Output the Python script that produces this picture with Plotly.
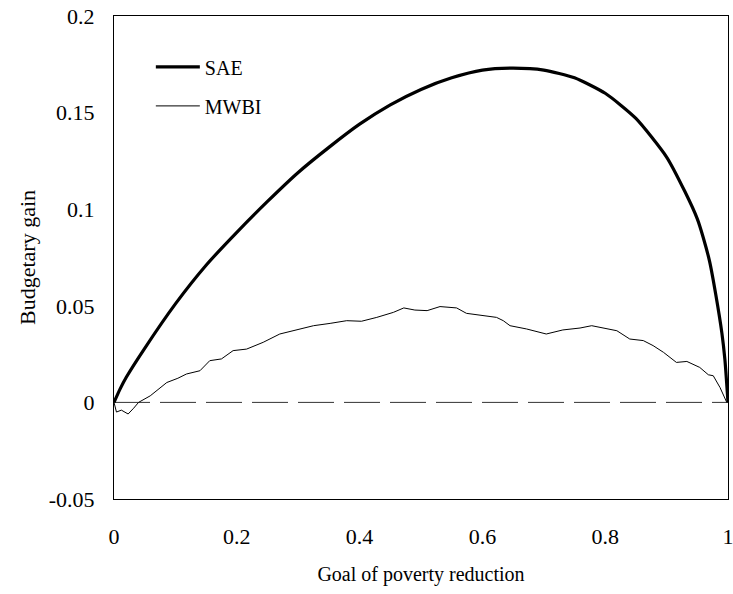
import plotly.graph_objects as go

# SAE curve
sae_x = [0, 0.01, 0.02, 0.05, 0.1, 0.15, 0.2, 0.25, 0.3, 0.35, 0.4, 0.45, 0.5, 0.55, 0.6,
         0.65, 0.7, 0.75, 0.8, 0.85, 0.9, 0.93, 0.95, 0.96, 0.97, 0.98, 0.99, 0.995, 1.0]
sae_y = [0, 0.007, 0.013, 0.028, 0.051, 0.071, 0.088, 0.104, 0.119, 0.132, 0.144, 0.154, 0.162,
         0.168, 0.172, 0.173, 0.172, 0.168, 0.16, 0.147, 0.127, 0.109, 0.095, 0.085, 0.073,
         0.056, 0.036, 0.022, 0]

# MWBI curve
mwbi_x = [0, 0.004, 0.012, 0.023, 0.032, 0.04, 0.059, 0.086, 0.104, 0.118, 0.14, 0.156, 0.175,
          0.194, 0.216, 0.243, 0.27, 0.292, 0.325, 0.352, 0.379, 0.403, 0.428, 0.455, 0.472,
          0.49, 0.51, 0.531, 0.558, 0.574, 0.602, 0.623, 0.634, 0.645, 0.672, 0.704, 0.731,
          0.759, 0.778, 0.802, 0.819, 0.84, 0.862, 0.878, 0.895, 0.916, 0.933, 0.954, 0.968,
          0.976, 0.987, 0.998]
mwbi_y = [0, -0.005, -0.004, -0.006, -0.003, 0, 0.0034, 0.0103, 0.0125, 0.0147, 0.0164, 0.0216,
          0.0225, 0.0268, 0.0276, 0.0311, 0.0354, 0.0371, 0.0397, 0.0409, 0.0423, 0.042, 0.044,
          0.0466, 0.0489, 0.0478, 0.0475, 0.0496, 0.0489, 0.0461, 0.0449, 0.044, 0.0423, 0.0397,
          0.038, 0.0354, 0.0375, 0.0385, 0.0397, 0.038, 0.0371, 0.0328, 0.032, 0.0294, 0.0259,
          0.0207, 0.0212, 0.0181, 0.0143, 0.0138, 0.0077, 0.0]

zero_x = [0, 1]
zero_y = [0, 0]

x_ticks = [0, 0.2, 0.4, 0.6, 0.8, 1]
x_tick_labels = ["0", "0.2", "0.4", "0.6", "0.8", "1"]
y_ticks = [-0.05, 0, 0.05, 0.1, 0.15, 0.2]
y_tick_labels = ["-0.05", "0", "0.05", "0.1", "0.15", "0.2"]

font_family = "Liberation Serif"

fig = go.Figure()
fig.add_trace(go.Scatter(x=zero_x, y=zero_y, mode="lines", showlegend=False,
                         line=dict(color="#333333", width=1, dash="36px,10px"),
                         hoverinfo="skip"))
fig.add_trace(go.Scatter(x=sae_x, y=sae_y, mode="lines", name="SAE", legendgroup="a",
                         line=dict(color="black", width=3.2, shape="spline", smoothing=0.6)))
fig.add_trace(go.Scatter(x=mwbi_x, y=mwbi_y, mode="lines", name="MWBI", legendgroup="b",
                         line=dict(color="black", width=1)))

fig.update_layout(
    template="none",
    width=733, height=594,
    margin=dict(l=114, r=5, t=16, b=95, pad=0),
    paper_bgcolor="white", plot_bgcolor="white",
    font=dict(family=font_family, color="black", size=22),
    legend=dict(x=0.06, y=0.935, xanchor="left", yanchor="top",
                font=dict(size=20, family=font_family),
                bgcolor="rgba(0,0,0,0)", borderwidth=0, itemwidth=44,
                traceorder="grouped", tracegroupgap=10),
    xaxis=dict(range=[0, 1], tickvals=x_ticks, ticktext=x_tick_labels, automargin=False,
               showgrid=False, zeroline=False, showline=True, linecolor="black",
               linewidth=1, mirror=True, ticks="outside", ticklen=18,
               tickcolor="rgba(0,0,0,0)", tickfont=dict(family=font_family, size=22),
               ticklabeloverflow="allow",
               title=dict(text="Goal of poverty reduction",
                          font=dict(size=20, family=font_family), standoff=18)),
    yaxis=dict(range=[-0.05, 0.2], tickvals=y_ticks, ticktext=y_tick_labels, automargin=False,
               showgrid=False, zeroline=False, showline=True, linecolor="black",
               linewidth=1, mirror=True, ticks="outside", ticklen=14,
               tickcolor="rgba(0,0,0,0)", tickfont=dict(family=font_family, size=22),
               ticklabeloverflow="allow",
               title=dict(text="Budgetary gain",
                          font=dict(size=22, family=font_family), standoff=7)),
)

fig.write_html("out.html", config={"displayModeBar": False},
               post_script="document.body.style.margin='0px';")
